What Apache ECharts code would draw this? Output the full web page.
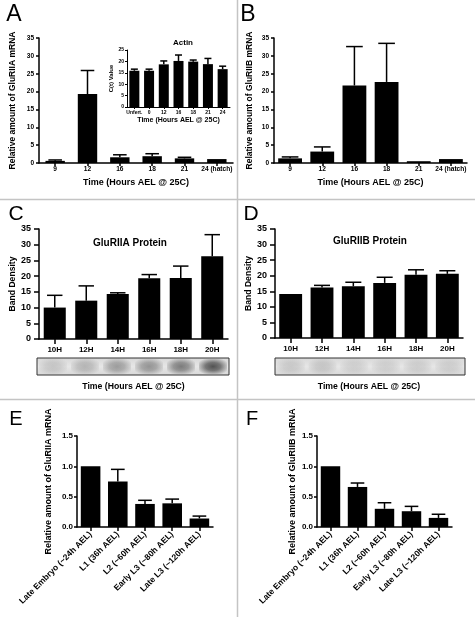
<!DOCTYPE html>
<html><head><meta charset="utf-8">
<script src="https://cdn.jsdelivr.net/npm/echarts@6/dist/echarts.min.js"></script>
<style>html,body{margin:0;padding:0;background:#fff}#c{width:475px;height:617px}</style>
</head><body><div id="c"></div>
<script>
// ---------- data ----------
const catsAB = ['9', '12', '16', '18', '21', '24 (hatch)'];
const meanA = [0.6, 19.3, 1.6, 1.9, 1.3, 1.1];
const upperA = [0.85, 25.9, 2.3, 2.6, 1.6, 1.1];
const meanB = [1.3, 3.2, 21.7, 22.7, 0.5, 1.1];
const upperB = [1.7, 4.5, 32.6, 33.5, 0.5, 1.1];

const catsActin = ['Unfert.', '0', '12', '16', '18', '21', '24'];
const meanActin = [15.9, 15.9, 18.7, 20.2, 19.9, 18.8, 16.6];
const upperActin = [16.6, 16.6, 20.2, 22.8, 20.6, 21.3, 17.9];

const catsCD = ['10H', '12H', '14H', '16H', '18H', '20H'];
const meanC = [10.0, 12.2, 14.3, 19.3, 19.4, 26.3];
const upperC = [13.9, 16.9, 14.7, 20.5, 23.2, 33.2];
const meanD = [14.1, 16.2, 16.6, 17.7, 20.3, 20.6];
const upperD = [14.1, 16.9, 17.9, 19.5, 21.9, 21.6];
const blotC = [0.2, 0.3, 0.45, 0.5, 0.65, 0.9];
const blotD = [0.18, 0.2, 0.14, 0.14, 0.15, 0.15];

const catsEF = ['Late Embryo (~24h AEL)', 'L1 (36h AEL)', 'L2 (~60h AEL)', 'Early L3 (~80h AEL)', 'Late L3 (~120h AEL)'];
const meanE = [1.0, 0.75, 0.38, 0.39, 0.14];
const upperE = [1.0, 0.95, 0.44, 0.46, 0.18];
const meanF = [1.0, 0.66, 0.30, 0.26, 0.15];
const upperF = [1.0, 0.725, 0.40, 0.34, 0.21];

const ticks35 = [0, 5, 10, 15, 20, 25, 30, 35];
const ticks25 = [0, 5, 10, 15, 20, 25];
const ticks15 = [0.0, 0.5, 1.0, 1.5];

const timeTitle = 'Time (Hours AEL @ 25C)';
// ---------- build ----------
const FONT = '"Liberation Sans", Arial, Helvetica, sans-serif';
const grids = [], xAxes = [], yAxes = [], series = [];

function errRender(barFrac) {
  return function (params, api) {
    const i = api.value(0), up = api.value(1), m = api.value(2);
    if (!(up > m)) return { type: 'group', children: [] };
    const top = api.coord([i, up]), base = api.coord([i, m]);
    const cap = api.size([1, 0])[0] * barFrac * 0.7 / 2;
    const st = { stroke: '#000', lineWidth: 1.5 };
    return { type: 'group', children: [
      { type: 'line', shape: { x1: top[0], y1: top[1], x2: base[0], y2: base[1] }, style: st },
      { type: 'line', shape: { x1: top[0] - cap, y1: top[1], x2: top[0] + cap, y2: top[1] }, style: st }
    ] };
  };
}

function panel(p) {
  const gi = grids.length;
  grids.push(Object.assign({ containLabel: false }, p.grid));
  const axisLine = { show: true, lineStyle: { color: '#000', width: p.lw || 1.5 } };
  xAxes.push({
    type: 'category', gridIndex: gi, data: p.cats,
    axisLine: axisLine,
    axisTick: { show: true, alignWithLabel: true, length: p.xTick || 3, lineStyle: { color: '#000', width: p.lw || 1.5 } },
    axisLabel: { fontSize: p.xFont, fontWeight: 'bold', color: '#000', fontFamily: FONT, margin: p.xMargin, rotate: p.rotate || 0, interval: 0 },
    name: p.xName || '', nameLocation: 'middle', nameGap: p.xNameGap,
    nameTextStyle: { fontSize: p.xNameFont, fontWeight: 'bold', color: '#000', fontFamily: FONT }
  });
  const t = p.ticks;
  yAxes.push({
    type: 'value', gridIndex: gi, min: t[0], max: t[t.length - 1], interval: t[1] - t[0],
    axisLine: axisLine,
    axisTick: { show: true, length: p.yTick || 3, lineStyle: { color: '#000', width: p.lw || 1.5 } },
    splitLine: { show: false },
    axisLabel: { fontSize: p.yFont, fontWeight: 'bold', color: '#000', fontFamily: FONT, margin: p.yMargin,
      formatter: p.fmt || (v => String(v)) },
    name: p.yName, nameLocation: 'middle', nameRotate: 90, nameGap: p.yNameGap,
    nameTextStyle: { fontSize: p.yNameFont, fontWeight: 'bold', color: '#000', fontFamily: FONT }
  });
  series.push({
    type: 'bar', xAxisIndex: gi, yAxisIndex: gi, data: p.mean, barWidth: (p.bar * 100) + '%',
    itemStyle: { color: '#000' }, silent: true, z: 2
  });
  series.push({
    type: 'custom', xAxisIndex: gi, yAxisIndex: gi, renderItem: errRender(p.bar), z: 3, silent: true,
    encode: { x: 0, y: 1 },
    data: p.cats.map((c, i) => [i, p.upper[i], p.mean[i]])
  });
}

function blot(g, cats, vals) {
  const gi = grids.length;
  grids.push(Object.assign({ show: true, backgroundColor: {
    type: 'linear', x: 0, y: 0, x2: 0, y2: 1,
    colorStops: [{ offset: 0, color: '#d8d8d8' }, { offset: 0.5, color: '#e6e6e6' }, { offset: 1, color: '#d8d8d8' }] },
    borderColor: '#333', borderWidth: 1 }, g));
  xAxes.push({ type: 'category', gridIndex: gi, data: cats, show: false });
  yAxes.push({ type: 'value', gridIndex: gi, min: 0, max: 1, show: false });
  series.push({
    type: 'scatter', xAxisIndex: gi, yAxisIndex: gi, silent: true, symbol: 'rect', symbolSize: [28, 15],
    data: cats.map((c, i) => ({ value: [i, 0.5], itemStyle: {
      color: { type: 'radial', x: 0.5, y: 0.5, r: 0.6, colorStops: [
        { offset: 0, color: 'rgba(25,25,25,' + vals[i] + ')' },
        { offset: 0.45, color: 'rgba(25,25,25,' + (vals[i] * 0.75) + ')' },
        { offset: 1, color: 'rgba(25,25,25,0)' }] } } }))
  });
}

// Panel A
panel({ grid: { left: 39, top: 38, width: 194, height: 125 }, cats: catsAB, mean: meanA, upper: upperA, ticks: ticks35,
  bar: 0.6, xFont: 6.6, yFont: 6.5, xMargin: 3, yMargin: 5, yName: 'Relative amount of GluRIIA mRNA', yNameGap: 22,
  yNameFont: 8.5, xName: timeTitle, xNameGap: 15, xNameFont: 9 });
// Inset Actin
panel({ grid: { left: 127, top: 50, width: 103, height: 57 }, cats: catsActin, mean: meanActin, upper: upperActin, ticks: ticks25,
  bar: 0.68, xFont: 5, yFont: 5, xMargin: 3, yMargin: 3, yTick: 2, xTick: 2, lw: 1, yName: 'C(t) Value', yNameGap: 7,
  yNameFont: 6, xName: timeTitle, xNameGap: 10, xNameFont: 7 });
// Panel B
panel({ grid: { left: 274, top: 38, width: 193, height: 125 }, cats: catsAB, mean: meanB, upper: upperB, ticks: ticks35,
  bar: 0.74, xFont: 6.6, yFont: 6.5, xMargin: 3, yMargin: 5, yName: 'Relative amount of GluRIIB mRNA', yNameGap: 19.5,
  yNameFont: 8.5, xName: timeTitle, xNameGap: 15, xNameFont: 9 });
// Panel C
panel({ grid: { left: 39, top: 229, width: 189, height: 110 }, cats: catsCD, mean: meanC, upper: upperC, ticks: ticks35,
  bar: 0.7, xFont: 8, yFont: 9, xMargin: 7, yMargin: 8, yTick: 5, xTick: 5, yName: 'Band Density', yNameGap: 22,
  yNameFont: 8.6, xName: timeTitle, xNameGap: 43, xNameFont: 8.7 });
blot({ left: 37, top: 358, width: 192, height: 17 }, catsCD, blotC);
// Panel D
panel({ grid: { left: 275, top: 229, width: 188, height: 109 }, cats: catsCD, mean: meanD, upper: upperD, ticks: ticks35,
  bar: 0.73, xFont: 8, yFont: 9, xMargin: 7, yMargin: 8, yTick: 5, xTick: 5, yName: 'Band Density', yNameGap: 20.5,
  yNameFont: 8.6, xName: timeTitle, xNameGap: 44, xNameFont: 8.7 });
blot({ left: 275, top: 358, width: 190, height: 17 }, catsCD, blotD);
// Panel E
panel({ grid: { left: 77, top: 436, width: 136, height: 91 }, cats: catsEF, mean: meanE, upper: upperE, ticks: ticks15,
  bar: 0.72, xFont: 8.5, yFont: 8, xMargin: 6, yMargin: 4, xTick: 4, rotate: 45, fmt: v => v.toFixed(1),
  yName: 'Relative amount of GluRIIA mRNA', yNameGap: 23.5, yNameFont: 9 });
// Panel F
panel({ grid: { left: 317, top: 436, width: 135, height: 91 }, cats: catsEF, mean: meanF, upper: upperF, ticks: ticks15,
  bar: 0.72, xFont: 8.5, yFont: 8, xMargin: 6, yMargin: 4, xTick: 4, rotate: 45, fmt: v => v.toFixed(1),
  yName: 'Relative amount of GluRIIB mRNA', yNameGap: 19.5, yNameFont: 9 });

function txt(s, x, y, size, weight) {
  return { type: 'text', x: x, y: y, silent: true, z: 10,
    style: { text: s, fontSize: size, fontWeight: weight || 'normal', fontFamily: FONT, fill: '#000', align: 'center', verticalAlign: 'middle' } };
}
const divider = { stroke: '#c4c4c4', lineWidth: 1.5 };
const graphic = [
  { type: 'line', shape: { x1: 0, y1: 199.5, x2: 475, y2: 199.5 }, style: divider, silent: true },
  { type: 'line', shape: { x1: 0, y1: 399.5, x2: 475, y2: 399.5 }, style: divider, silent: true },
  { type: 'line', shape: { x1: 237.5, y1: 0, x2: 237.5, y2: 617 }, style: divider, silent: true },
  txt('A', 14, 15, 23), txt('B', 248, 15, 23), txt('C', 16, 214, 21), txt('D', 251, 214, 21),
  txt('E', 16, 419, 20), txt('F', 252, 419, 20),
  txt('Actin', 183, 43, 8, 'bold'), txt('GluRIIA Protein', 130, 243, 10, 'bold'), txt('GluRIIB Protein', 370, 241, 10, 'bold')
];

const chart = echarts.init(document.getElementById('c'), null, { renderer: 'canvas' });
chart.setOption({ animation: false, backgroundColor: '#fff', grid: grids, xAxis: xAxes, yAxis: yAxes, series: series, graphic: graphic });
</script></body></html>
